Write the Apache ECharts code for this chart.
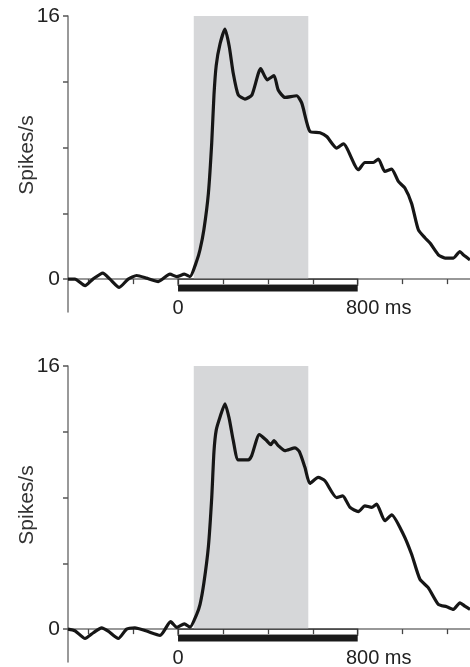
<!DOCTYPE html>
<html lang="en">
<head>
    <meta charset="UTF-8">
    <title>Spikes/s</title>
    <script src="https://cdn.jsdelivr.net/npm/echarts@6.0.0/dist/echarts.min.js"></script>
    <style>
        body {
            margin: 0;
            padding: 0;
            background: #fff;
        }

        #box {
            width: 470px;
            height: 667px;
        }
    </style>
</head>
<body>
<div id="box"></div>

<script>
    // y axis: ticks and the two labelled values
    var yTicks = [0, 4, 8, 12, 16];
    var yLabels = [0, 16];
    // x axis (ms)
    var xTicks = [-400, -200, 0, 200, 400, 600, 800, 1000, 1200];
    var xLabels = [0, 800];
    var shadeSpan = [70, 580];   // grey window, ms
    var barSpan = [0, 800];      // stimulus bar, ms

    // top panel
    var timesA = [-490, -459, -414, -379, -335, -303, -262, -222, -184, -140, -88, -36, -6, 28, 53, 83, 98, 115, 135, 150,
        160, 170, 187, 209, 228, 246, 268, 298, 329, 368, 397, 427, 446, 476, 528, 551, 587, 632, 662, 706,
        736, 803, 832, 869, 892, 921, 951, 981, 1010, 1040, 1070, 1100, 1122, 1159, 1189, 1226, 1255, 1270, 1300];
    var ratesA = [0, 0, -0.4, 0, 0.37, 0, -0.5, 0, 0.22, 0.06, -0.15, 0.3, 0.15, 0.3, 0.15, 1.1, 1.8, 3.0, 5.2, 8.3,
        11.2, 13.0, 14.3, 15.2, 14.15, 12.5, 11.2, 10.95, 11.2, 12.8, 12.12, 12.37, 11.5, 11.05, 11.15, 10.7, 8.98, 8.9, 8.67, 7.97,
        8.23, 6.65, 7.09, 7.09, 7.3, 6.55, 6.69, 5.94, 5.54, 4.6, 3.0, 2.5, 2.19, 1.48, 1.28, 1.28, 1.68, 1.48, 1.17];

    // bottom panel
    var timesB = [-490, -459, -414, -377, -340, -311, -266, -229, -192, -140, -80, -33, -6, 28, 53, 83, 98, 115, 135, 150,
        160, 170, 187, 209, 228, 246, 268, 313, 328, 362, 392, 413, 427, 446, 476, 521, 540, 565, 587, 624,
        654, 706, 733, 766, 803, 832, 862, 884, 921, 951, 1003, 1040, 1077, 1114, 1159, 1196, 1226, 1255, 1277, 1300];
    var ratesB = [0, -0.1, -0.57, -0.22, 0.08, -0.12, -0.57, 0, 0.08, -0.12, -0.38, 0.45, 0.1, 0.32, 0.12, 0.9, 1.5, 2.8, 5.0, 8.0,
        10.8, 12.1, 12.9, 13.7, 12.79, 11.46, 10.29, 10.29, 10.55, 11.83, 11.5, 11.22, 11.46, 11.16, 10.85, 11.02, 10.8, 9.84, 8.86, 9.23,
        9.02, 8.0, 8.1, 7.4, 7.15, 7.5, 7.4, 7.6, 6.59, 6.95, 5.77, 4.55, 3.03, 2.52, 1.5, 1.36, 1.2, 1.6, 1.4, 1.2];

    var font = 'Liberation Sans, Arial, sans-serif';
    var panels = [[timesA, ratesA], [timesB, ratesB]];

    var myChart = echarts.init(document.getElementById('box'));

    var option = {
        animation: false,
        backgroundColor: '#fff',
        textStyle: {fontFamily: font},
        grid: [
            {left: 68, right: 0, top: 16, height: 296, outerBoundsMode: 'none'},
            {left: 68, right: 0, top: 366, height: 296, outerBoundsMode: 'none'}
        ],
        xAxis: panels.map(function (p, i) {
            return {
                gridIndex: i,
                type: 'value',
                min: -490,
                max: 1300,
                axisLine: {onZero: true, lineStyle: {color: '#777', width: 1.5}},
                axisTick: {customValues: xTicks, length: 5, lineStyle: {color: '#444', width: 1.3}},
                axisLabel: {
                    customValues: xLabels,
                    margin: -14,
                    formatter: function (v) {
                        return v === 800 ? '{e|800 ms}' : '{z|' + v + '}';
                    },
                    rich: {
                        z: {fontSize: 20, color: '#222', fontFamily: font},
                        e: {fontSize: 20, color: '#222', fontFamily: font, padding: [0, 0, 0, 42]}
                    }
                },
                splitLine: {show: false}
            };
        }),
        yAxis: panels.map(function (p, i) {
            return {
                gridIndex: i,
                type: 'value',
                min: -2,
                max: 16,
                name: 'Spikes/s',
                nameLocation: 'middle',
                nameGap: 30,
                nameMoveOverlap: false,
                nameTextStyle: {fontSize: 21, color: '#333', fontFamily: font, padding: [0, 0, 0, 18]},
                axisLine: {show: true, onZero: false, lineStyle: {color: '#777', width: 1.5}},
                axisTick: {show: true, customValues: yTicks, length: 5, lineStyle: {color: '#555', width: 1.5}},
                axisLabel: {customValues: yLabels, margin: 8, fontSize: 21, color: '#222', fontFamily: font},
                splitLine: {show: false}
            };
        }),
        series: panels.map(function (p, i) {
            return {
                type: 'line',
                xAxisIndex: i,
                yAxisIndex: i,
                clip: false,
                showSymbol: false,
                smooth: 0.2,
                lineStyle: {color: '#161616', width: 3.2},
                data: p[0].map(function (t, k) {
                    return [t, p[1][k]];
                }),
                markArea: {
                    silent: true,
                    data: [
                        [{xAxis: shadeSpan[0], yAxis: 0, itemStyle: {color: '#d6d7d9'}}, {xAxis: shadeSpan[1], yAxis: 16.2}],
                        [{xAxis: barSpan[0], yAxis: 0, itemStyle: {color: 'rgba(0,0,0,0)', borderColor: '#333', borderWidth: 1.2}},
                            {xAxis: barSpan[1], yAxis: -0.36}],
                        [{xAxis: barSpan[0], yAxis: -0.36, itemStyle: {color: '#1a1a1a'}}, {xAxis: barSpan[1], yAxis: -0.75}]
                    ]
                }
            };
        })
    };

    myChart.setOption(option);
</script>
</body>
</html>
